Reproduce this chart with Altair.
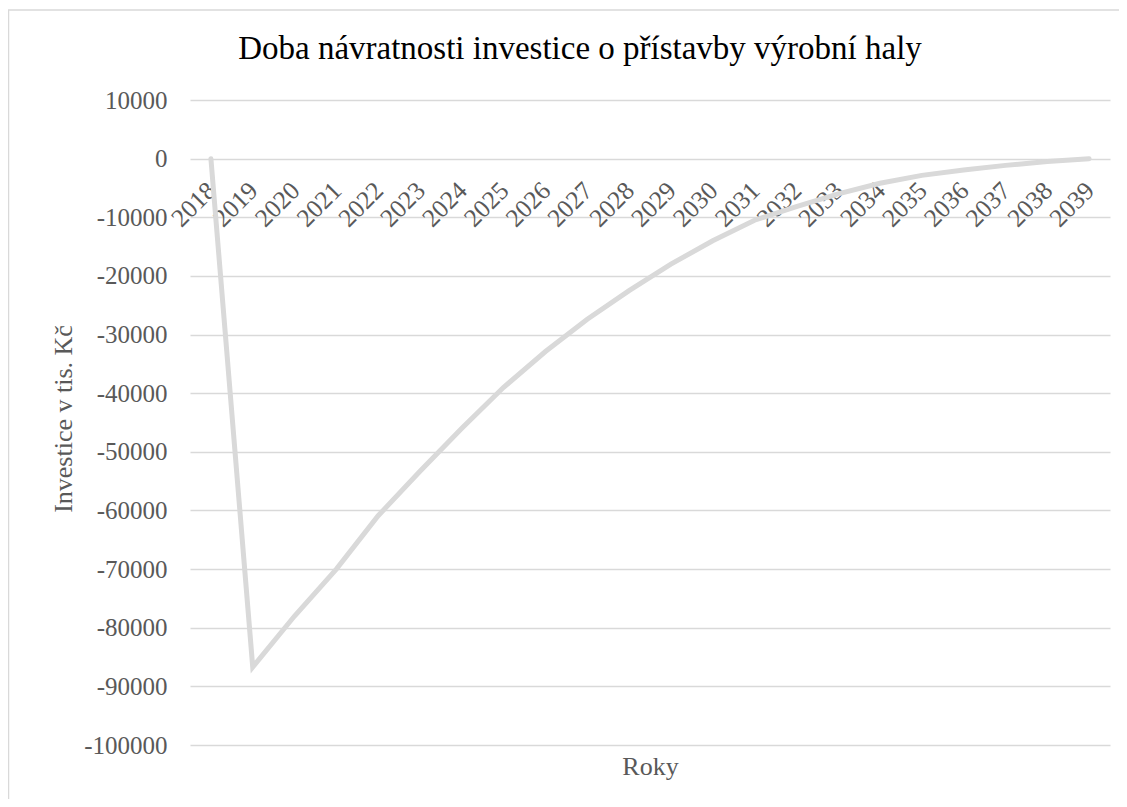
import altair as alt
import pandas as pd

years = ["2018", "2019", "2020", "2021", "2022", "2023", "2024", "2025", "2026", "2027", "2028",
         "2029", "2030", "2031", "2032", "2033", "2034", "2035", "2036", "2037", "2038", "2039"]
values = [0, -86700, -78000, -70000, -60900, -53300, -46000, -39000, -32900, -27400, -22500,
          -18000, -14000, -10500, -8200, -6000, -4200, -2850, -1950, -1150, -500, 0]
y_ticks = [10000, 0, -10000, -20000, -30000, -40000, -50000, -60000, -70000, -80000, -90000, -100000]

title_text = "Doba návratnosti investice o přístavby výrobní haly"
x_title = "Roky"
y_title = "Investice v tis. Kč"

FONT = "Liberation Serif"
GRAY = "#595959"
LIGHT = "#d9d9d9"
W, H = 920, 645

data = pd.DataFrame({"Rok": years, "Investice": values})

line = alt.Chart(data).mark_line(color=LIGHT, strokeWidth=5, strokeCap="round").encode(
    x=alt.X("Rok:O", sort=years,
            scale=alt.Scale(type="point", padding=0.5),
            axis=alt.Axis(title=x_title, labelAngle=-45, labelAlign="right", labelBaseline="top",
                          labelPadding=19, labelOffset=-8, offset=-586.4, domain=False, ticks=False,
                          grid=False,
                          labelFont=FONT, labelFontSize=25.5, labelColor=GRAY,
                          titleFont=FONT, titleFontSize=26, titleColor=GRAY, titleFontWeight="normal",
                          titleX=W / 2, titleY=616, titleBaseline="alphabetic", titleAlign="center",
                          labelOverlap=False)),
    y=alt.Y("Investice:Q",
            scale=alt.Scale(domain=[-100000, 10000], nice=False, zero=False),
            axis=alt.Axis(title=y_title, values=y_ticks, labelExpr="datum.value + ''",
                          domain=False, ticks=False,
                          grid=True, gridColor=LIGHT, gridWidth=1.5,
                          labelFont=FONT, labelFontSize=25, labelColor=GRAY, labelPadding=23,
                          titleFont=FONT, titleFontSize=26, titleColor=GRAY, titleFontWeight="normal",
                          titleX=-119, titleY=318.5, titleBaseline="alphabetic", titleAlign="center",
                          titleAngle=270))
)

border = alt.Chart(pd.DataFrame({"b": [0]})).mark_rect(
    fillOpacity=0, stroke=LIGHT, strokeWidth=1.5
).encode(
    x=alt.value(-181.5), x2=alt.value(W + 100),
    y=alt.value(-90), y2=alt.value(H + 100)
)

chart = alt.layer(border, line).properties(
    width=W, height=H,
    title=alt.TitleParams(title_text, font=FONT, fontSize=33, fontWeight="normal", color="#000000",
                          anchor="middle", dx=-70, dy=83, baseline="alphabetic", offset=0),
    autosize="none",
    padding={"left": 182, "top": 92, "right": 9, "bottom": 54},
    background="white",
).configure_view(stroke=None)

chart.save("out.html", embed_options={"renderer": "svg", "actions": False})
